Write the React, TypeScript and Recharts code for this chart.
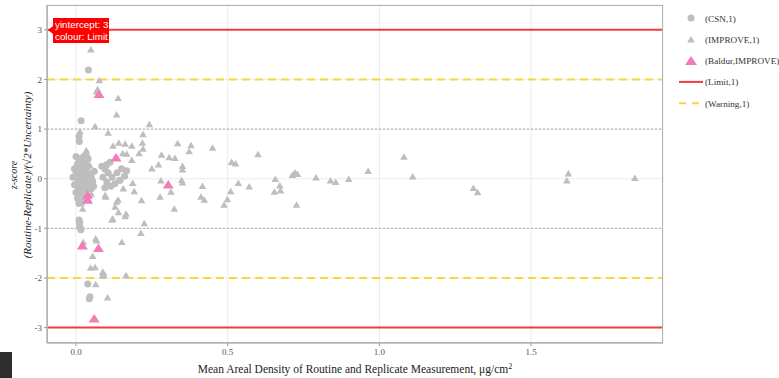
import { ScatterChart, Scatter, XAxis, YAxis, CartesianGrid, ReferenceLine } from "recharts"

// CSN samples: [mean areal density, z-score]
const csnPoints = [
  [0.041, 2.19], [0.017, 1.17], [0.010, 0.85], [0.011, 0.75],
  [0.000, 0.45], [0.010, 0.40], [0.020, 0.38], [0.025, 0.45], [0.040, 0.40],
  [0.005, 0.30], [0.015, 0.28], [0.030, 0.32], [0.040, 0.25], [-0.005, 0.20],
  [0.010, 0.18], [0.025, 0.20], [0.035, 0.15], [0.045, 0.10], [0.000, 0.10],
  [0.015, 0.08], [0.030, 0.05], [-0.010, 0.03], [0.005, 0.00], [0.020, -0.02],
  [0.038, 0.00], [0.050, 0.05], [0.055, -0.05], [0.012, -0.08], [0.028, -0.10],
  [0.045, -0.12], [-0.005, -0.12], [0.008, -0.18], [0.022, -0.20], [0.035, -0.22],
  [0.050, -0.20], [0.000, -0.28], [0.015, -0.30], [0.030, -0.35], [0.005, -0.40],
  [0.020, -0.45], [0.010, -0.50], [0.060, 0.15], [0.058, -0.15],
  [0.096, 0.19], [0.106, 0.12], [0.089, 0.03], [0.102, -0.07], [0.119, 0.03],
  [0.135, 0.12], [0.145, -0.03], [0.167, 0.16], [0.115, -0.15], [0.128, -0.10],
  [0.095, -0.18], [0.085, 0.25], [0.150, 0.20], [0.160, 0.05], [0.101, 0.28], [0.112, 0.33],
  [0.010, -0.83], [0.012, -0.87], [0.011, -0.90], [0.013, -0.97], [0.016, -1.03],
  [0.090, -1.95], [0.039, -2.12], [0.046, -2.38], [0.044, -2.42],
]

// IMPROVE samples
const improvePoints = [
  [0.049, 2.61], [0.077, 1.99], [0.071, 1.81], [0.068, 1.76], [0.139, 1.63], [0.134, 1.30],
  [0.063, 1.06], [0.013, 0.96], [0.106, 0.93], [0.242, 1.10], [0.221, 0.90], [0.219, 0.73],
  [0.122, 0.67], [0.141, 0.73], [0.162, 0.71], [0.184, 0.67], [0.221, 0.61], [0.154, 0.52],
  [0.167, 0.51], [0.208, 0.52], [0.184, 0.38], [0.282, 0.49], [0.307, 0.44], [0.326, 0.42],
  [0.250, 0.21], [0.272, 0.29], [0.335, 0.72], [0.379, 0.68], [0.373, 0.56], [0.450, 0.63],
  [0.351, 0.26], [0.351, 0.19], [0.513, 0.34], [0.526, 0.31], [0.600, 0.50], [0.348, -0.02],
  [0.351, -0.07], [0.280, -0.03], [0.137, -0.03], [0.187, -0.08], [0.192, -0.25], [0.313, -0.26],
  [0.417, -0.14], [0.535, -0.08], [0.571, -0.15], [0.277, -0.36], [0.412, -0.36], [0.423, -0.42],
  [0.510, -0.25], [0.499, -0.41], [0.488, -0.52], [0.324, -0.60],
  [1.081, 0.45], [1.110, 0.05], [0.963, 0.16], [0.899, 0.00], [0.839, -0.03], [0.856, -0.06],
  [0.791, 0.03], [0.722, 0.13], [0.713, 0.08], [0.730, 0.10], [0.657, 0.00], [0.672, -0.13],
  [0.674, -0.23], [0.654, -0.26], [0.727, -0.52], [1.310, -0.18], [1.324, -0.27],
  [1.623, 0.11], [1.618, -0.03], [1.842, 0.02],
  [0.024, -1.27], [0.065, -1.20], [0.068, -1.24], [0.151, -1.27], [0.055, -1.55], [0.048, -1.79],
  [0.063, -1.78], [0.088, -1.87], [0.165, -1.94], [0.065, -2.12], [0.104, -2.39], [0.216, -0.43],
  [0.225, -0.89], [0.214, -1.09], [0.121, -0.80], [0.129, -0.56], [0.140, -0.67], [0.165, -0.70],
  [0.162, -0.75], [0.134, -0.46], [0.139, -0.42], [0.098, -0.36], [0.096, -0.33], [0.156, -0.19],
  [0.022, -0.60], [0.118, -0.82],
  [0.010, 0.32], [0.030, 0.42], [0.045, 0.28], [0.050, -0.30], [0.040, -0.40], [0.018, -0.48],
  [0.034, 0.58], [0.035, 0.53],
]

// Baldur's IMPROVE samples
const baldurPoints = [
  [0.076, 1.71], [0.132, 0.43], [0.304, -0.11], [0.038, -0.32], [0.038, -0.42],
  [0.021, -1.34], [0.074, -1.39], [0.060, -2.81],
]

const xTicks = [0, 0.5, 1, 1.5]
const yTicks = [-3, -2, -1, 0, 1, 2, 3]
const limitLevels = [3, -3]
const warningLevels = [2, -2]
const guideLevels = [1, -1]

const legendItems = [
  { label: "(CSN,1)", kind: "circle" },
  { label: "(IMPROVE,1)", kind: "triangle" },
  { label: "(Baldur,IMPROVE)", kind: "bigTriangle" },
  { label: "(Limit,1)", kind: "limit" },
  { label: "(Warning,1)", kind: "warning" },
]

const GREY = "#bebebe"
const PINK = "#f27cb6"
const RED = "#f23c3c"
const GOLD = "#f9d63a"
const SERIF = "'Liberation Serif', 'DejaVu Serif', serif"
const SANS = "'Liberation Sans', Arial, sans-serif"

const toXY = (pts: number[][]) => pts.map(([x, y]) => ({ x, y }))

const tri = (cx: number, cy: number, w: number, h: number) =>
  `M${cx - w},${cy + h / 2}L${cx + w},${cy + h / 2}L${cx},${cy - h / 2}Z`

function Dot(props: any) {
  return <circle cx={props.cx} cy={props.cy} r={3.5} fill={GREY} />
}
function SmallTri(props: any) {
  return <path d={tri(props.cx, props.cy, 3.8, 6.5)} fill={GREY} />
}
function BigTri(props: any) {
  return <path d={tri(props.cx, props.cy, 5.5, 8.5)} fill={PINK} />
}

function LegendSymbol({ kind }: { kind: string }) {
  if (kind === "circle") return <circle cx={16} cy={0} r={3.5} fill={GREY} />
  if (kind === "triangle") return <path d={tri(16, 0, 3.8, 6.5)} fill={GREY} />
  if (kind === "bigTriangle") return <path d={tri(16, 0, 6, 9)} fill={PINK} />
  if (kind === "limit") return <line x1={4} x2={28} y1={0} y2={0} stroke={RED} strokeWidth={2} />
  return <line x1={4} x2={28} y1={0} y2={0} stroke={GOLD} strokeWidth={2} strokeDasharray="7 6" />
}

export default function App() {
  return (
    <div style={{ position: "absolute", left: 0, top: 0, width: 779, height: 378, background: "#fff", overflow: "hidden" }}>
      <ScatterChart width={779} height={378} margin={{ top: 5, right: 116, bottom: 0, left: 7 }}>
        <CartesianGrid stroke="#ebebeb" strokeWidth={1} />
        <XAxis
          type="number"
          dataKey="x"
          domain={[-0.0956, 1.935]}
          ticks={xTicks}
          allowDataOverflow
          height={35}
          tickFormatter={(v: number) => v.toFixed(1)}
          tick={{ fontSize: 9, fill: "#555", fontFamily: SERIF }}
          tickSize={3}
          tickMargin={3}
          axisLine={{ stroke: "#999" }}
          tickLine={{ stroke: "#999" }}
        />
        <YAxis
          type="number"
          dataKey="y"
          domain={[-3.31, 3.5]}
          ticks={yTicks}
          allowDataOverflow
          width={40}
          tick={{ fontSize: 9, fill: "#555", fontFamily: SERIF }}
          tickSize={3}
          tickMargin={2}
          axisLine={{ stroke: "#999" }}
          tickLine={{ stroke: "#999" }}
        />
        {guideLevels.map((v) => (
          <ReferenceLine key={"g" + v} y={v} stroke="#aaa" strokeWidth={1} strokeDasharray="2 2" />
        ))}
        {warningLevels.map((v) => (
          <ReferenceLine key={"w" + v} y={v} stroke={GOLD} strokeWidth={2} strokeDasharray="8 5" />
        ))}
        {limitLevels.map((v) => (
          <ReferenceLine key={"l" + v} y={v} stroke={RED} strokeWidth={2} />
        ))}
        <Scatter data={toXY(csnPoints)} shape={Dot} isAnimationActive={false} />
        <Scatter data={toXY(improvePoints)} shape={SmallTri} isAnimationActive={false} />
        <Scatter data={toXY(baldurPoints)} shape={BigTri} isAnimationActive={false} />
      </ScatterChart>

      {/* panel border */}
      <div style={{ position: "absolute", left: 47, top: 5, width: 616, height: 338, border: "1px solid #b3b3b3", boxSizing: "border-box", pointerEvents: "none" }} />

      <svg style={{ position: "absolute", left: 0, top: 0 }} width={779} height={378} pointerEvents="none">
        <text transform="translate(17,175) rotate(-90)" textAnchor="middle" fontSize={10} fontStyle="italic" fontFamily={SERIF} fill="#222">
          z-score
        </text>
        <text transform="translate(31,175) rotate(-90)" textAnchor="middle" fontSize={11} fontStyle="italic" fontFamily={SERIF} fill="#222">
          (Routine-Replicate)/(√2*Uncertainty)
        </text>
        <text x={355} y={373} textAnchor="middle" fontSize={11.5} fontFamily={SERIF} fill="#222">
          Mean Areal Density of Routine and Replicate Measurement, μg/cm
          <tspan fontSize={8} dy={-4}>2</tspan>
        </text>

        {/* legend */}
        {legendItems.map((it, i) => (
          <g key={it.label} transform={`translate(675,${18 + i * 21.3})`}>
            <LegendSymbol kind={it.kind} />
            <text x={30} y={3.5} fontSize={9.2} fontFamily={SERIF} fill="#333">
              {it.label}
            </text>
          </g>
        ))}

        {/* hover label */}
        <path d="M53,18 L109,18 L109,43 L53,43 L53,34 L48,30 L53,26 Z" fill="#ff0000" />
        <text x={55} y={28} fontSize={9.8} fontFamily={SANS} fill="#fff">yintercept: 3</text>
        <text x={55} y={40} fontSize={9.8} fontFamily={SANS} fill="#fff">colour: Limit</text>
      </svg>

      <div style={{ position: "absolute", left: 0, top: 352, width: 12, height: 26, background: "#2d2d2d" }} />
    </div>
  )
}
